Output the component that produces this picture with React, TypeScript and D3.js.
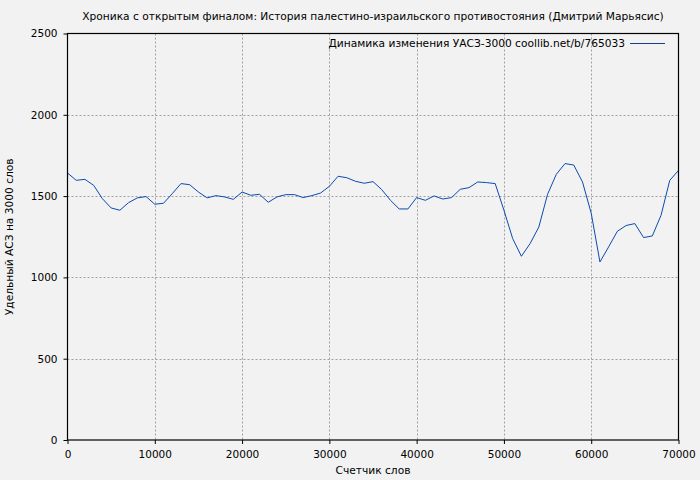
import * as d3 from 'd3';
import { useEffect, useRef } from 'react';

// words counter, every 1000 words
const wordCounts = d3.range(0, 71000, 1000);

// УАСЗ values
const uaszValues = [
    1642, 1597, 1603, 1566, 1484, 1427, 1413, 1460, 1489, 1497,
    1450, 1456, 1515, 1577, 1570, 1525, 1489, 1503, 1495, 1480,
    1525, 1505, 1511, 1462, 1495, 1509, 1509, 1491, 1503, 1519,
    1560, 1622, 1613, 1591, 1579, 1589, 1540, 1474, 1421, 1421,
    1491, 1474, 1501, 1482, 1491, 1542, 1552, 1587, 1583, 1577,
    1413, 1239, 1130, 1208, 1310, 1511, 1634, 1700, 1691, 1587,
    1395, 1095, 1188, 1284, 1319, 1331, 1245, 1255, 1382, 1597,
    1658,
];

const xTicks = [0, 10000, 20000, 30000, 40000, 50000, 60000, 70000];
const yTicks = [0, 500, 1000, 1500, 2000, 2500];

const title = 'Хроника с открытым финалом: История палестино-израильского противостояния (Дмитрий Марьясис)';
const legendLabel = 'Динамика изменения УАСЗ-3000 coollib.net/b/765033';
const xLabel = 'Счетчик слов';
const yLabel = 'Удельный АСЗ на 3000 слов';

const App = () => {

    const ref = useRef<SVGSVGElement | null>(null);

    const width = 700
    const height = 480
    const margin = { "top": 33.5, "bottom": 40, "left": 67.5, "right": 21.5 }
    const font = "'DejaVu Sans', sans-serif"
    const fontSize = 10.65

    useEffect(() => {

        let svg = d3.select(ref.current!)
        svg.selectAll("*").remove()

        let xScale = d3.scaleLinear()
            .domain([0, 70000])
            .range([margin.left, width - margin.right])

        let yScale = d3.scaleLinear()
            .domain([0, 2500])
            .range([height - margin.bottom, margin.top])

        svg.append("rect")
            .attr("width", width)
            .attr("height", height)
            .attr("fill", "#f2f2f2")

        // grid
        let grid = svg.append("g")
        grid.selectAll(".vgrid")
            .data(xTicks.slice(1, -1))
            .enter()
            .append("line")
            .attr("x1", d => Math.round(xScale(d)) + 0.5)
            .attr("x2", d => Math.round(xScale(d)) + 0.5)
            .attr("y1", margin.top)
            .attr("y2", height - margin.bottom)
            .attr("stroke", "#a0a0a0")
            .attr("stroke-dasharray", "2,2")

        grid.selectAll(".hgrid")
            .data(yTicks.slice(1, -1))
            .enter()
            .append("line")
            .attr("x1", margin.left)
            .attr("x2", width - margin.right)
            .attr("y1", d => Math.round(yScale(d)) + 0.5)
            .attr("y2", d => Math.round(yScale(d)) + 0.5)
            .attr("stroke", "#a0a0a0")
            .attr("stroke-dasharray", "2,2")

        // data line
        const line = d3.line<number>()
            .x((d, i) => xScale(wordCounts[i]))
            .y(d => yScale(d))

        svg.append("path")
            .datum(uaszValues)
            .attr("d", line)
            .attr("fill", "none")
            .attr("stroke", "#0a4bb0")
            .attr("stroke-width", 1)

        // frame
        svg.append("rect")
            .attr("x", margin.left)
            .attr("y", margin.top)
            .attr("width", width - margin.left - margin.right)
            .attr("height", height - margin.top - margin.bottom)
            .attr("fill", "none")
            .attr("stroke", "#000")
            .attr("stroke-width", 1.2)

        // axes
        let xAxis = d3.axisBottom(xScale).tickValues(xTicks).tickSize(4).tickSizeOuter(0).tickFormat(d3.format("d"))
        let gx = svg.append("g")
            .attr("transform", "translate(0," + (height - margin.bottom) + ")")
            .call(xAxis)
        gx.select(".domain").remove()

        let yAxis = d3.axisLeft(yScale).tickValues(yTicks).tickSize(4).tickSizeOuter(0).tickFormat(d3.format("d"))
        let gy = svg.append("g")
            .attr("transform", "translate(" + margin.left + ",0)")
            .call(yAxis)
        gy.select(".domain").remove()

        svg.selectAll(".tick text")
            .attr("font-family", font)
            .attr("font-size", 10.5)
            .attr("fill", "#000")
        gx.selectAll(".tick text").attr("dy", "1.05em")
        gy.selectAll(".tick text").attr("x", -10)

        // title and labels
        svg.append("text")
            .attr("x", (margin.left + width - margin.right) / 2)
            .attr("y", 20)
            .attr("text-anchor", "middle")
            .attr("font-family", font)
            .attr("font-size", fontSize)
            .text(title)

        svg.append("text")
            .attr("x", (margin.left + width - margin.right) / 2)
            .attr("y", 474)
            .attr("text-anchor", "middle")
            .attr("font-family", font)
            .attr("font-size", fontSize)
            .text(xLabel)

        svg.append("text")
            .attr("transform", "translate(13," + ((margin.top + height - margin.bottom) / 2) + ") rotate(-90)")
            .attr("text-anchor", "middle")
            .attr("font-family", font)
            .attr("font-size", fontSize)
            .text(yLabel)

        // legend
        svg.append("text")
            .attr("x", 625)
            .attr("y", 47)
            .attr("text-anchor", "end")
            .attr("font-family", font)
            .attr("font-size", fontSize)
            .text(legendLabel)

        svg.append("line")
            .attr("x1", 630)
            .attr("x2", 665)
            .attr("y1", 43.5)
            .attr("y2", 43.5)
            .attr("stroke", "#1a3d8f")
            .attr("stroke-width", 1)

    }, [])

    return <svg ref={ref} width={width} height={height} style={{ position: "fixed", top: 0, left: 0 }} />;
};

export default App;
